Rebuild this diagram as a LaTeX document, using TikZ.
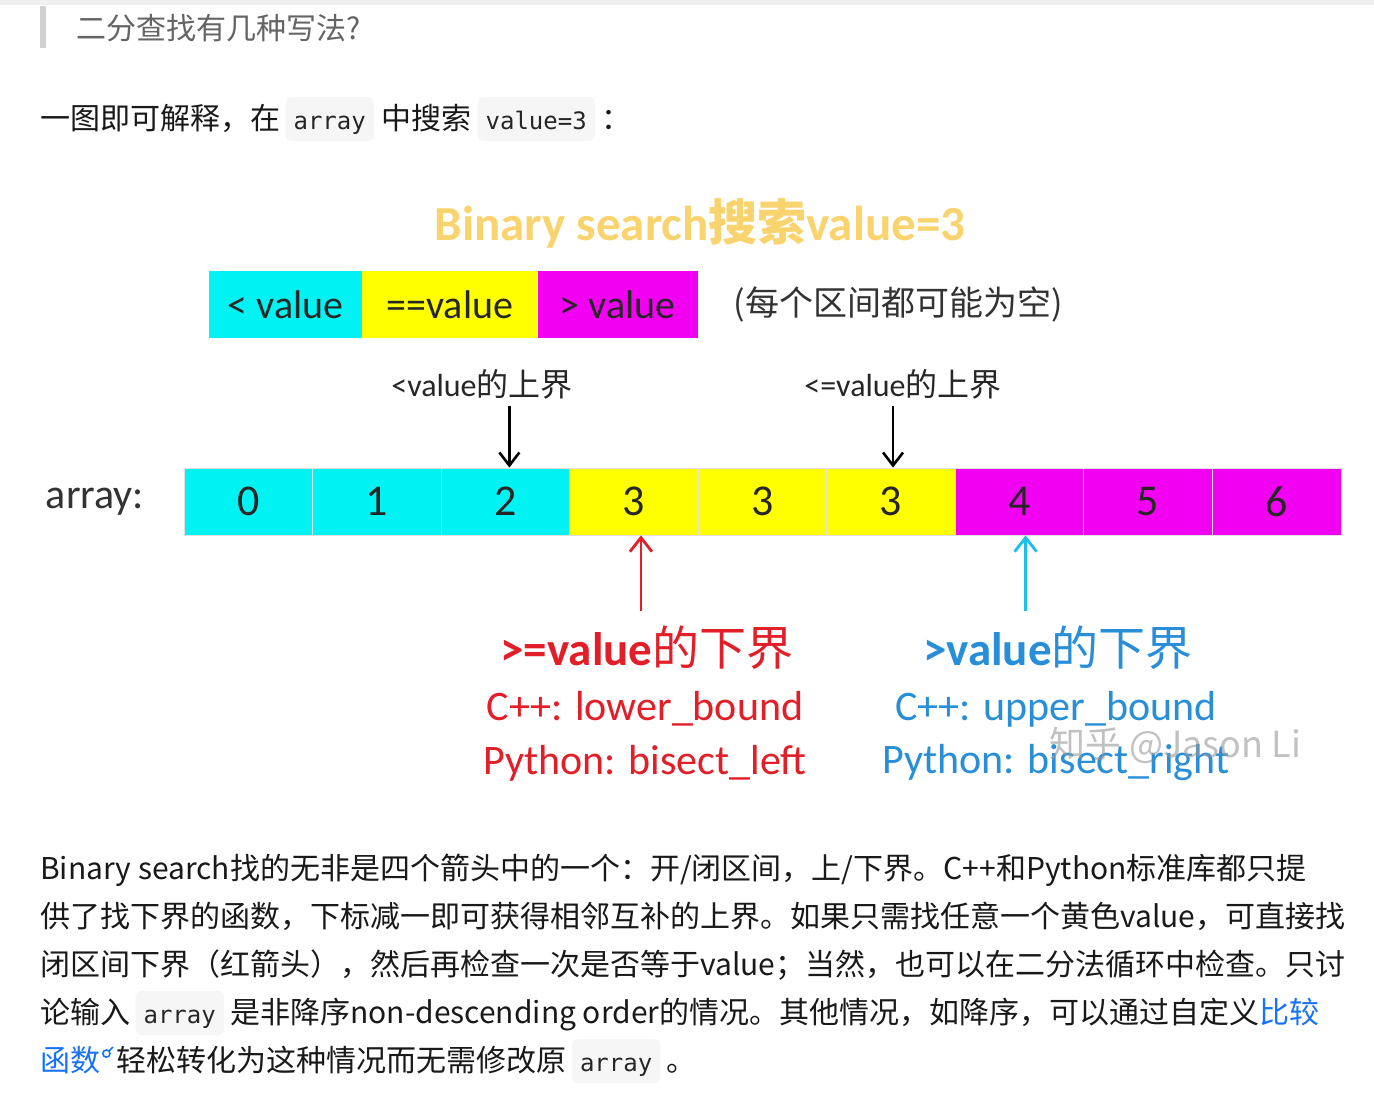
\documentclass[tikz,border=0pt]{standalone}
\usepackage{fontspec}
\setmainfont{Noto Sans CJK SC}
\newfontfamily\latf{Carlito}
\newfontfamily\monof{DejaVu Sans Mono}
\usetikzlibrary{positioning,arrows.meta}

\definecolor{cellcyan}{RGB}{0,242,242}
\definecolor{cellyellow}{RGB}{255,255,0}
\definecolor{cellmagenta}{RGB}{242,0,242}
\definecolor{titleorange}{RGB}{249,211,110}
\definecolor{lowred}{RGB}{226,30,40}
\definecolor{upblue}{RGB}{40,142,216}
\definecolor{uparrow}{RGB}{30,190,235}
\definecolor{headgray}{RGB}{100,100,100}
\definecolor{codebg}{RGB}{246,246,246}
\definecolor{linkblue}{RGB}{23,114,246}

\newcommand{\fs}[1]{\fontsize{#1}{#1}\selectfont}

\tikzset{
  para/.style={anchor=base west, inner sep=0pt, font=\fs{30}, text=black!90},
  code/.style={fill=codebg, rounded corners=6pt, inner xsep=8pt, inner ysep=0pt,
    text height=32pt, text depth=12pt, font=\monof\fs{24}, text=black!85},
  cell/.style={draw=black!12, line width=0.8pt, minimum width=128.55pt,
    minimum height=67pt, inner sep=0pt, font=\latf\fs{44}, text=black!85},
  legend/.style={minimum height=67pt, inner sep=0pt, font=\latf\fs{40}, text=black!85},
  downarrow/.style={-{Straight Barb[length=13pt,width=20pt]}, line width=2.6pt},
  uparr/.style={-{Straight Barb[length=14pt,width=22pt]}, line width=2.8pt}
}

\begin{document}
\begin{tikzpicture}[x=1pt,y=-1pt]
\fill[white] (0,0) rectangle (1374,1100);
\useasboundingbox (0,0) rectangle (1374,1100);
% heading
\fill[black!6] (0,0) rectangle (1374,5);
\fill[black!18] (40,6) rectangle (46,48);
\node[para, font=\fs{30}, text=headgray] (heading) at (76,39) {二分查找有几种写法?};
%
\node[para] (intro1) at (40,129) {一图即可解释，在};
\node[code, base right=5pt of intro1] (intro2) {array};
\node[para, base right=7pt of intro2] (intro3) {中搜索};
\node[code, base right=6pt of intro3] (intro4) {value=3};
\node[para, base right=6pt of intro4] (intro5) {：};
%
\node[font=\fs{49}, text=titleorange] (title) at (700,223)
  {{\latf\bfseries Binary search}\textbf{搜索}{\latf\bfseries value=3}};
%
\node[legend, fill=cellcyan, minimum width=153pt] (lgless) at (285.5,304.5) {< value};
\node[legend, fill=cellyellow, minimum width=175pt, right=0pt of lgless] (lgeq) {==value};
\node[legend, fill=cellmagenta, minimum width=160pt, right=0pt of lgeq] (lggreater) {> value};
\node[font=\fs{34}, text=black!80, right=32pt of lggreater] (lgnote) {(每个区间都可能为空)};
%
\foreach \v/\col [count=\i from 0] in {0/cellcyan,1/cellcyan,2/cellcyan,3/cellyellow,3/cellyellow,3/cellyellow,4/cellmagenta,5/cellmagenta,6/cellmagenta}
  \node[cell, fill=\col] (c\i) at ({184+128.55*\i+64.28},501.5) {\v};
\node[font=\latf\fs{42}, text=black!80, left=36pt of c0] (arrlabel) {array:};
%
\node[font=\fs{32}, text=black!85] (ubless) at (482,384) {{\latf <value}的上界};
\node[font=\fs{32}, text=black!85] (ubleq) at (903,384) {{\latf <=value}的上界};
\draw[downarrow] ([xshift=4pt,yshift=-4pt]ubless.south -| c2.north) -- ([xshift=4pt]c2.north);
\draw[downarrow] ([xshift=2pt,yshift=-4pt]ubleq.south -| c5.north) -- ([xshift=2pt]c5.north);
%
\node[font=\fs{47}, text=lowred] (lbgeq) at (647,648) {{\latf\bfseries >=value}的下界};
\node[font=\latf\fs{42}, text=lowred] (lbcpp) at (645,709) {C++: lower\_bound};
\node[font=\latf\fs{42}, text=lowred] (lbpy) at (645,763) {Python: bisect\_left};
\node[font=\fs{47}, text=upblue] (lbgt) at (1058,648) {{\latf\bfseries >value}的下界};
\node[font=\latf\fs{42}, text=upblue] (ubcpp) at (1056,709) {C++: upper\_bound};
\node[font=\latf\fs{42}, text=upblue] (ubpy) at (1056,763) {Python: bisect\_right};
\draw[uparr, lowred] ([xshift=7pt,yshift=12pt]lbgeq.north -| c3.south) -- ([xshift=7pt]c3.south);
\draw[uparr, uparrow] ([xshift=6pt,yshift=12pt]lbgt.north -| c6.south) -- ([xshift=6pt]c6.south);
\node[font=\fs{36}, text=black!40, opacity=0.6] (mark) at (1175,745) {知乎 @Jason Li};
%
\node[para] (p1) at (40,879) {Binary search找的无非是四个箭头中的一个：开/闭区间，上/下界。C++和Python标准库都只提};
\node[para] (p2) at (40,927) {供了找下界的函数，下标减一即可获得相邻互补的上界。如果只需找任意一个黄色value，可直接找};
\node[para] (p3) at (40,975) {闭区间下界（红箭头），然后再检查一次是否等于value；当然，也可以在二分法循环中检查。只讨};
\node[para] (p4a) at (40,1023) {论输入};
\node[code, base right=5pt of p4a] (p4b) {array};
\node[para, base right=6pt of p4b] (p4c) {是非降序non-descending order的情况。其他情况，如降序，可以通过自定义\textcolor{linkblue}{比较}};
\node[para, text=linkblue] (p5a) at (40,1071) {函数};
\node[para, base right=16pt of p5a] (p5b) {轻松转化为这种情况而无需修改原};
\node[code, base right=5pt of p5b] (p5c) {array};
\node[para, base right=6pt of p5c] (p5d) {。};
\coordinate[xshift=6pt, yshift=-8pt] (lens) at (p5a.north east);
\draw[linkblue, line width=1.6pt] (lens) circle (3.6pt);
\draw[linkblue, line width=1.6pt, line cap=round] (lens) ++(3pt,3pt) -- ++(3.5pt,3.5pt);
\end{tikzpicture}
\end{document}
